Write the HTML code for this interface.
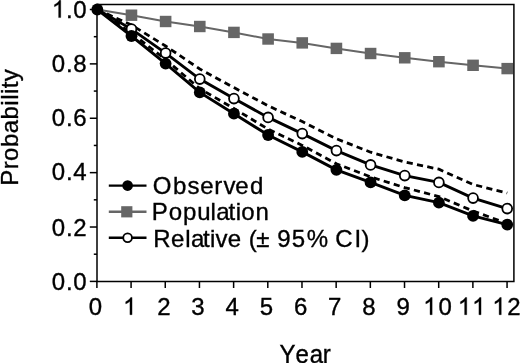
<!DOCTYPE html>
<html><head><meta charset="utf-8"><title>Survival</title>
<style>
html,body{margin:0;padding:0;background:#fff;}
body{width:520px;height:363px;overflow:hidden;}
svg{display:block;will-change:transform;}
text{font-family:"Liberation Sans",sans-serif;font-size:24px;fill:#000;stroke:#000;stroke-width:0.35px;}
</style></head><body>
<svg width="520" height="363" viewBox="0 0 520 363">
<rect width="520" height="363" fill="#fff"/>

<g stroke="#000" stroke-width="1.5" fill="none">
<path d="M97 4.6 H513.9 V281.4 H97 Z"/>
<path d="M89.8 281.4 H97"/>
<path d="M89.8 227.02 H97"/>
<path d="M89.8 172.64 H97"/>
<path d="M89.8 118.26 H97"/>
<path d="M89.8 63.88 H97"/>
<path d="M89.8 9.5 H97"/>
<path d="M93.8 254.21 H97"/>
<path d="M93.8 199.83 H97"/>
<path d="M93.8 145.45 H97"/>
<path d="M93.8 91.07 H97"/>
<path d="M93.8 36.69 H97"/>
<path d="M96.9 281.4 V288"/>
<path d="M131.08 281.4 V288"/>
<path d="M165.26 281.4 V288"/>
<path d="M199.44 281.4 V288"/>
<path d="M233.62 281.4 V288"/>
<path d="M267.8 281.4 V288"/>
<path d="M301.98 281.4 V288"/>
<path d="M336.16 281.4 V288"/>
<path d="M370.34 281.4 V288"/>
<path d="M404.52 281.4 V288"/>
<path d="M438.7 281.4 V288"/>
<path d="M472.88 281.4 V288"/>
<path d="M507.06 281.4 V288"/>
</g>
<text y="290.2" x="51.8 66.0 73.2">0.0</text>
<text y="236.0" x="51.8 66.0 73.2">0.2</text>
<text y="180.4" x="51.8 66.0 73.2">0.4</text>
<text y="126.2" x="51.8 66.0 73.2">0.6</text>
<text y="71.5" x="51.8 66.0 73.2">0.8</text>
<path transform="translate(51.8,17.6) scale(0.01171875,-0.01171875)" d="M763 0H583V1147Q518 1085 412.5 1023T223 930V1104Q373 1174.5 485.5 1275T645 1470H763Z" fill="#000" stroke="#000" stroke-width="30"/>
<text y="17.6" x="66.0 73.2">.0</text>
<text transform="translate(95.5,314.7)" text-anchor="middle">0</text>
<path transform="translate(123.1,314.7) scale(0.01171875,-0.01171875)" d="M763 0H583V1147Q518 1085 412.5 1023T223 930V1104Q373 1174.5 485.5 1275T645 1470H763Z" fill="#000" stroke="#000" stroke-width="30"/>
<text transform="translate(163.86,314.7)" text-anchor="middle">2</text>
<text transform="translate(198.04,314.7)" text-anchor="middle">3</text>
<text transform="translate(232.22,314.7)" text-anchor="middle">4</text>
<text transform="translate(266.4,314.7)" text-anchor="middle">5</text>
<text transform="translate(300.58,314.7)" text-anchor="middle">6</text>
<text transform="translate(334.76,314.7)" text-anchor="middle">7</text>
<text transform="translate(368.94,314.7)" text-anchor="middle">8</text>
<text transform="translate(403.12,314.7)" text-anchor="middle">9</text>
<path transform="translate(423.2,314.7) scale(0.01171875,-0.01171875)" d="M763 0H583V1147Q518 1085 412.5 1023T223 930V1104Q373 1174.5 485.5 1275T645 1470H763Z" fill="#000" stroke="#000" stroke-width="30"/>
<text y="314.7" x="438.4">0</text>
<path transform="translate(457.8,314.7) scale(0.01171875,-0.01171875)" d="M763 0H583V1147Q518 1085 412.5 1023T223 930V1104Q373 1174.5 485.5 1275T645 1470H763Z" fill="#000" stroke="#000" stroke-width="30"/>
<path transform="translate(472.1,314.7) scale(0.01171875,-0.01171875)" d="M763 0H583V1147Q518 1085 412.5 1023T223 930V1104Q373 1174.5 485.5 1275T645 1470H763Z" fill="#000" stroke="#000" stroke-width="30"/>
<path transform="translate(492.3,314.7) scale(0.01171875,-0.01171875)" d="M763 0H583V1147Q518 1085 412.5 1023T223 930V1104Q373 1174.5 485.5 1275T645 1470H763Z" fill="#000" stroke="#000" stroke-width="30"/>
<text y="314.7" x="507.2">2</text>
<text transform="translate(0,363.0) scale(1,1.09)" y="0" x="279.4 295.5 309.8 322.7">Year</text>
<text transform="translate(18.2,185.8) rotate(-90)" text-anchor="start" letter-spacing="0.46">Probability</text>
<polyline points="97.3,9.5 131.46,15.2 165.62,21.5 199.78,26.5 233.94,32.4 268.1,39.0 302.26,42.9 336.42,48.4 370.58,53.5 404.74,57.8 438.9,61.7 473.06,65.3 507.22,68.6" fill="none" stroke="#666" stroke-width="2.0"/>
<polyline points="97.3,9.5 131.46,25.0 165.62,46.0 199.78,69.0 233.94,87.6 268.1,105.8 302.26,121.6 336.42,138.8 370.58,152.2 404.74,162.0 438.9,169.2 473.06,184.5 507.22,193.0" fill="none" stroke="#000" stroke-width="2.8" stroke-dasharray="6.2 4.3"/>
<polyline points="97.3,9.5 131.46,33.0 165.62,59.6 199.78,88.7 233.94,108.5 268.1,129.1 302.26,145.4 336.42,163.8 370.58,176.9 404.74,187.6 438.9,196.6 473.06,211.0 507.22,223.5" fill="none" stroke="#000" stroke-width="2.8" stroke-dasharray="6.2 4.3"/>
<polyline points="97.3,9.5 131.46,29.1 165.62,53.1 199.78,79.1 233.94,98.6 268.1,117.4 302.26,133.6 336.42,150.6 370.58,164.9 404.74,175.6 438.9,182.4 473.06,198.1 507.22,208.6" fill="none" stroke="#000" stroke-width="2.9"/>
<polyline points="97.3,9.5 131.46,36.0 165.62,63.6 199.78,92.4 233.94,113.7 268.1,135.0 302.26,151.9 336.42,169.8 370.58,182.4 404.74,195.4 438.9,202.7 473.06,215.9 507.22,224.6" fill="none" stroke="#000" stroke-width="2.9"/>
<rect x="125.66" y="9.5" width="11.6" height="11.4" fill="#666"/>
<rect x="159.82" y="15.8" width="11.6" height="11.4" fill="#666"/>
<rect x="193.98" y="20.8" width="11.6" height="11.4" fill="#666"/>
<rect x="228.14" y="26.7" width="11.6" height="11.4" fill="#666"/>
<rect x="262.3" y="33.3" width="11.6" height="11.4" fill="#666"/>
<rect x="296.46" y="37.2" width="11.6" height="11.4" fill="#666"/>
<rect x="330.62" y="42.7" width="11.6" height="11.4" fill="#666"/>
<rect x="364.78" y="47.8" width="11.6" height="11.4" fill="#666"/>
<rect x="398.94" y="52.1" width="11.6" height="11.4" fill="#666"/>
<rect x="433.1" y="56.0" width="11.6" height="11.4" fill="#666"/>
<rect x="467.26" y="59.6" width="11.6" height="11.4" fill="#666"/>
<rect x="501.42" y="62.9" width="11.6" height="11.4" fill="#666"/>
<circle cx="131.46" cy="29.1" r="4.9" fill="#fff" stroke="#000" stroke-width="1.8"/>
<circle cx="165.62" cy="53.1" r="4.9" fill="#fff" stroke="#000" stroke-width="1.8"/>
<circle cx="199.78" cy="79.1" r="4.9" fill="#fff" stroke="#000" stroke-width="1.8"/>
<circle cx="233.94" cy="98.6" r="4.9" fill="#fff" stroke="#000" stroke-width="1.8"/>
<circle cx="268.1" cy="117.4" r="4.9" fill="#fff" stroke="#000" stroke-width="1.8"/>
<circle cx="302.26" cy="133.6" r="4.9" fill="#fff" stroke="#000" stroke-width="1.8"/>
<circle cx="336.42" cy="150.6" r="4.9" fill="#fff" stroke="#000" stroke-width="1.8"/>
<circle cx="370.58" cy="164.9" r="4.9" fill="#fff" stroke="#000" stroke-width="1.8"/>
<circle cx="404.74" cy="175.6" r="4.9" fill="#fff" stroke="#000" stroke-width="1.8"/>
<circle cx="438.9" cy="182.4" r="4.9" fill="#fff" stroke="#000" stroke-width="1.8"/>
<circle cx="473.06" cy="198.1" r="4.9" fill="#fff" stroke="#000" stroke-width="1.8"/>
<circle cx="507.22" cy="208.6" r="4.9" fill="#fff" stroke="#000" stroke-width="1.8"/>
<circle cx="97.3" cy="9.5" r="5.9" fill="#000"/>
<circle cx="131.46" cy="36.0" r="5.9" fill="#000"/>
<circle cx="165.62" cy="63.6" r="5.9" fill="#000"/>
<circle cx="199.78" cy="92.4" r="5.9" fill="#000"/>
<circle cx="233.94" cy="113.7" r="5.9" fill="#000"/>
<circle cx="268.1" cy="135.0" r="5.9" fill="#000"/>
<circle cx="302.26" cy="151.9" r="5.9" fill="#000"/>
<circle cx="336.42" cy="169.8" r="5.9" fill="#000"/>
<circle cx="370.58" cy="182.4" r="5.9" fill="#000"/>
<circle cx="404.74" cy="195.4" r="5.9" fill="#000"/>
<circle cx="438.9" cy="202.7" r="5.9" fill="#000"/>
<circle cx="473.06" cy="215.9" r="5.9" fill="#000"/>
<circle cx="507.22" cy="224.6" r="5.9" fill="#000"/>
<path d="M108.8 185.6 H146.5" stroke="#000" stroke-width="2.4"/>
<circle cx="127.6" cy="185.6" r="5.3" fill="#000"/>
<path d="M108.8 211.8 H146.5" stroke="#666" stroke-width="2.4"/>
<rect x="121.2" y="206.20000000000002" width="11.2" height="11.2" fill="#666"/>
<path d="M108.8 237.8 H146.5" stroke="#000" stroke-width="2.4"/>
<circle cx="127.6" cy="237.8" r="4.35" fill="#fff" stroke="#000" stroke-width="1.8"/>
<text y="193.8" x="152.8 172.9 187.5 200.35 214.2 223.4 235.25 249.9">Observed</text>
<text y="220.4" x="151.7 168.8 183.1 197.3 210.5 216.3 228.4 235.65 241.3 255.4">Population</text>
<text y="246.6" x="153.15 171.05 185.3 191.0 203.0 210.0 215.4 227.65 241 248.8 256.25 270 277.3 291.85 306.7 328 335.2 354.4 361.4">Relative (± 95% CI)</text>
</svg></body></html>
